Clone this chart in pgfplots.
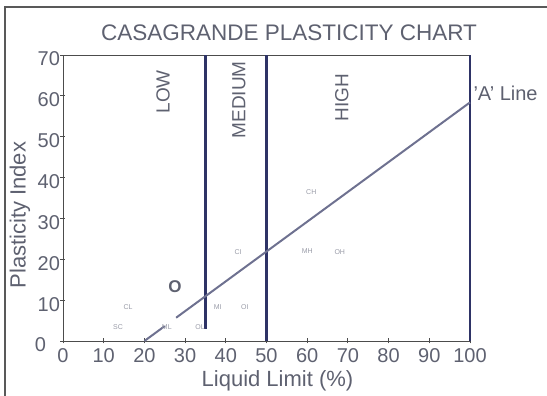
\documentclass[border=0pt]{standalone}
\usepackage{pgfplots}
\pgfplotsset{compat=1.18}
\usepackage{fontspec}
\setmainfont{Liberation Sans}
\definecolor{txt}{HTML}{5E6170}
\definecolor{navy}{HTML}{2E3366}
\definecolor{aline}{HTML}{6E7190}
\definecolor{small}{HTML}{9A9CA8}
\begin{document}
\begin{tikzpicture}
\useasboundingbox (-63pt,-55pt) rectangle (484pt,341pt);
\draw[gray!70!black, line width=1.2pt] (-58pt,-55pt) -- (-58pt,334pt) -- (484pt,334pt);
\node[text=txt, font=\fontsize{22.5}{26}\selectfont] at (226pt,308pt) {CASAGRANDE PLASTICITY CHART};
\begin{axis}[
  at={(0,0)}, anchor=south west,
  scale only axis, width=407pt, height=286pt,
  xmin=0, xmax=100, ymin=0, ymax=70,
  xtick={0,10,...,100}, ytick={0,10,...,70},
  yticklabels={{0\rule{14pt}{0pt}},10,20,30,40,50,60,70},
  xtick pos=left, ytick pos=left,
  tick align=center, major tick length=5pt,
  axis line style={draw=gray!60!black, line width=0.9pt},
  tick style={draw=gray!60!black, line width=0.9pt},
  ticklabel style={font=\fontsize{20}{24}\selectfont, text=txt},
  /pgf/number format/assume math mode=true,
  xticklabel style={yshift=-2pt},
  yticklabel style={yshift=-4pt, xshift=3pt},
  xlabel={Liquid Limit (\%)},
  ylabel={Plasticity Index},
  label style={font=\fontsize{22}{26}\selectfont, text=txt},
  xlabel style={at={(rel axis cs:0.527,0)}, anchor=center, yshift=-40pt},
  ylabel style={at={(rel axis cs:-0.106,0.44)}, anchor=center},
  clip=false,
]
\addplot[navy, line width=2.6pt] coordinates {(35,3) (35,70)};
\addplot[navy, line width=2.6pt] coordinates {(50,0) (50,70)};
\addplot[navy, line width=2pt] coordinates {(100,0) (100,70)};
\addplot[aline, line width=2pt] coordinates {(20,0) (25,3.65)};
\addplot[aline, line width=2pt] coordinates {(27.8,5.7) (100,58.4)};
\node[rotate=90, text=txt, font=\fontsize{19}{22}\selectfont] at (axis cs:24.6,61) {LOW};
\node[rotate=90, text=txt, font=\fontsize{19}{22}\selectfont] at (axis cs:43.2,59) {MEDIUM};
\node[rotate=90, text=txt, font=\fontsize{19}{22}\selectfont] at (axis cs:68.5,59.5) {HIGH};
\node[anchor=west, text=txt, font=\fontsize{20}{24}\selectfont] at (axis cs:100,60.5) {'A' Line};
\node[text=txt, font=\bfseries\fontsize{17}{20}\selectfont] at (axis cs:27.5,13.2) {O};
\begin{scope}[every node/.style={text=small, font=\fontsize{7}{8}\selectfont}]
\node at (axis cs:16,8.2) {CL};
\node at (axis cs:13.5,3.4) {SC};
\node at (axis cs:25.5,3.4) {ML};
\node at (axis cs:33.7,3.4) {OL};
\node at (axis cs:38,8.2) {MI};
\node at (axis cs:44.7,8.2) {OI};
\node at (axis cs:43,21.8) {CI};
\node at (axis cs:61,36.4) {CH};
\node at (axis cs:60,22) {MH};
\node at (axis cs:68,21.8) {OH};
\end{scope}
\end{axis}
\end{tikzpicture}
\end{document}
